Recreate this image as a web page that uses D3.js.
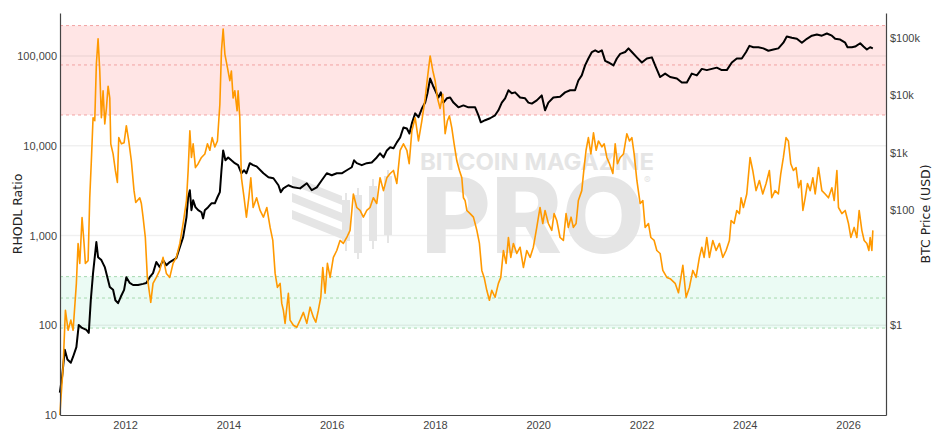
<!DOCTYPE html>
<html lang="en">
<head>
    <meta charset="UTF-8">
    <title>RHODL Ratio</title>
    <script src="https://cdnjs.cloudflare.com/ajax/libs/d3/7.8.5/d3.min.js"></script>
    <style>
        body {
            margin: 0;
            background: #fff;
            font-family: "DejaVu Sans", Verdana, sans-serif;
        }
        .tick-label {
            font-size: 11px;
            fill: #444;
        }
        .axis-title {
            font-size: 12.5px;
            fill: #222;
        }
    </style>
</head>
<body>
    <div id="chart"></div>

    <script>
        // RHODL ratio readings [decimal year, ratio]
        const rhodlSeries = [
            [2010.736, 10], [2010.799, 34], [2010.844, 147], [2010.896, 88], [2010.949, 114],
            [2010.993, 88], [2011.057, 293], [2011.090, 815], [2011.123, 489], [2011.167, 1585],
            [2011.206, 815], [2011.231, 489], [2011.284, 525], [2011.316, 2630], [2011.347, 6810],
            [2011.380, 20500], [2011.413, 19000], [2011.444, 81500], [2011.477, 155000], [2011.510, 68000],
            [2011.541, 20500], [2011.574, 40800], [2011.607, 17500], [2011.638, 26000], [2011.671, 46000],
            [2011.704, 34000], [2011.723, 10500], [2011.768, 8100], [2011.812, 5300], [2011.851, 3900],
            [2011.878, 12300], [2011.928, 10500], [2011.981, 10800], [2012.025, 16700], [2012.072, 11300],
            [2012.122, 6800], [2012.174, 3160], [2012.207, 2330], [2012.285, 2630], [2012.316, 2270],
            [2012.349, 1600], [2012.393, 950], [2012.432, 341], [2012.498, 180], [2012.542, 293],
            [2012.606, 341], [2012.672, 408], [2012.736, 570], [2012.800, 378], [2012.866, 341],
            [2012.930, 489], [2012.993, 570], [2013.059, 815], [2013.123, 1360], [2013.187, 2450],
            [2013.220, 5300], [2013.253, 14700], [2013.284, 7400], [2013.317, 10500], [2013.361, 5700],
            [2013.414, 6300], [2013.478, 7400], [2013.543, 8100], [2013.594, 10500], [2013.640, 8900],
            [2013.685, 12300], [2013.737, 9700], [2013.787, 11300], [2013.834, 29000], [2013.865, 114000],
            [2013.898, 200000], [2013.931, 105000], [2013.981, 74000], [2014.028, 53000], [2014.058, 68000],
            [2014.091, 34000], [2014.124, 41000], [2014.169, 24500], [2014.188, 41000], [2014.221, 20500],
            [2014.252, 4400], [2014.304, 2630], [2014.349, 1600], [2014.395, 2630], [2014.434, 4400],
            [2014.479, 2050], [2014.546, 2630], [2014.614, 1900], [2014.678, 1600], [2014.744, 2050],
            [2014.808, 1230], [2014.860, 880], [2014.905, 378], [2014.949, 264], [2015.002, 293],
            [2015.034, 175], [2015.065, 147], [2015.098, 105], [2015.162, 227], [2015.195, 114],
            [2015.259, 100], [2015.325, 95], [2015.389, 114], [2015.453, 139], [2015.519, 105],
            [2015.583, 159], [2015.646, 123], [2015.693, 108], [2015.743, 147], [2015.790, 205],
            [2015.828, 440], [2015.873, 227], [2015.918, 489], [2015.970, 341], [2016.034, 570],
            [2016.100, 680], [2016.163, 880], [2016.227, 815], [2016.293, 950], [2016.357, 1140],
            [2016.421, 2900], [2016.487, 2050], [2016.551, 1900], [2016.615, 1600], [2016.681, 1900],
            [2016.744, 2050], [2016.808, 2630], [2016.874, 2270], [2016.938, 4400], [2017.002, 3160],
            [2017.068, 4400], [2017.132, 4900], [2017.196, 5300], [2017.261, 3800], [2017.325, 8900],
            [2017.389, 10500], [2017.455, 8900], [2017.500, 6300], [2017.552, 14700], [2017.616, 20500],
            [2017.680, 11300], [2017.746, 19000], [2017.810, 34000], [2017.854, 57000], [2017.906, 100000],
            [2017.959, 68000], [2018.003, 53000], [2018.048, 34000], [2018.100, 26000], [2018.152, 37500],
            [2018.197, 13600], [2018.241, 19000], [2018.280, 21500], [2018.326, 15800], [2018.371, 10500],
            [2018.423, 6800], [2018.474, 5300], [2018.520, 4400], [2018.551, 2630], [2018.584, 2450],
            [2018.617, 1900], [2018.681, 1750], [2018.745, 1600], [2018.811, 1140], [2018.861, 815],
            [2018.907, 408], [2018.952, 341], [2019.004, 245], [2019.055, 190], [2019.101, 245],
            [2019.165, 205], [2019.229, 293], [2019.275, 341], [2019.326, 680], [2019.378, 489],
            [2019.423, 950], [2019.469, 570], [2019.519, 815], [2019.585, 630], [2019.649, 740],
            [2019.713, 440], [2019.779, 680], [2019.843, 570], [2019.906, 740], [2019.972, 1230],
            [2020.036, 2050], [2020.089, 1360], [2020.133, 1900], [2020.197, 1360], [2020.263, 1140],
            [2020.308, 1750], [2020.360, 1470], [2020.424, 950], [2020.488, 880], [2020.540, 1750],
            [2020.584, 1230], [2020.637, 1600], [2020.681, 1230], [2020.734, 1360], [2020.778, 2450],
            [2020.844, 3160], [2020.889, 5700], [2020.927, 8900], [2020.972, 12300], [2021.018, 8100],
            [2021.069, 13900], [2021.121, 8900], [2021.165, 11300], [2021.231, 9700], [2021.276, 10500],
            [2021.328, 7400], [2021.379, 6300], [2021.444, 4900], [2021.489, 10500], [2021.533, 6300],
            [2021.586, 7400], [2021.650, 8100], [2021.715, 13600], [2021.766, 11300], [2021.812, 12300],
            [2021.856, 8100], [2021.909, 4100], [2021.973, 2270], [2022.025, 2450], [2022.070, 1230],
            [2022.134, 1360], [2022.180, 950], [2022.244, 880], [2022.296, 680], [2022.360, 630],
            [2022.412, 408], [2022.490, 341], [2022.554, 330], [2022.651, 293], [2022.715, 230],
            [2022.800, 464], [2022.863, 205], [2022.927, 264], [2022.993, 408], [2023.057, 341],
            [2023.121, 570], [2023.168, 740], [2023.212, 570], [2023.264, 950], [2023.315, 570],
            [2023.381, 880], [2023.445, 680], [2023.509, 815], [2023.574, 570], [2023.638, 680],
            [2023.702, 880], [2023.735, 1470], [2023.793, 1360], [2023.845, 1900], [2023.896, 1750],
            [2023.928, 2630], [2023.973, 2050], [2024.039, 2900], [2024.103, 7400], [2024.155, 5300],
            [2024.219, 3160], [2024.283, 4100], [2024.349, 2900], [2024.413, 3800], [2024.477, 5300],
            [2024.523, 2630], [2024.587, 3160], [2024.651, 2900], [2024.698, 4900], [2024.748, 7400],
            [2024.800, 12300], [2024.845, 11300], [2024.891, 6300], [2024.942, 5300], [2024.994, 5700],
            [2025.039, 3400], [2025.085, 4100], [2025.124, 1900], [2025.168, 2630], [2025.213, 3800],
            [2025.265, 3160], [2025.317, 4400], [2025.362, 2900], [2025.426, 5700], [2025.491, 3160],
            [2025.555, 2900], [2025.619, 2630], [2025.685, 3400], [2025.730, 2450], [2025.782, 5300],
            [2025.813, 2050], [2025.879, 1750], [2025.943, 1900], [2026.007, 1360], [2026.053, 950],
            [2026.117, 1230], [2026.169, 950], [2026.214, 1900], [2026.266, 1140], [2026.311, 880],
            [2026.363, 815], [2026.402, 680], [2026.427, 950], [2026.460, 680], [2026.479, 1140]
        ];

        // BTC price readings [decimal year, USD]
        const priceSeries = [
            [2010.736, 0.066], [2010.780, 0.125], [2010.832, 0.37], [2010.883, 0.25], [2010.949, 0.22],
            [2010.993, 0.28], [2011.057, 0.41], [2011.103, 1.0], [2011.167, 0.89], [2011.251, 0.82],
            [2011.297, 0.73], [2011.336, 2.7], [2011.380, 8.0], [2011.413, 15.2], [2011.444, 27.8],
            [2011.477, 15.2], [2011.541, 13.5], [2011.607, 10.2], [2011.657, 6.8], [2011.704, 4.6],
            [2011.768, 4.1], [2011.812, 2.7], [2011.864, 2.4], [2011.917, 3.1], [2011.981, 4.1],
            [2012.025, 6.8], [2012.091, 5.4], [2012.155, 4.97], [2012.252, 4.97], [2012.349, 5.2],
            [2012.412, 5.4], [2012.478, 6.8], [2012.542, 8.0], [2012.606, 12.5], [2012.672, 10.2],
            [2012.736, 13.5], [2012.800, 11.0], [2012.866, 12.5], [2012.930, 13.5], [2012.993, 14.6],
            [2013.059, 22.7], [2013.123, 34], [2013.187, 75], [2013.220, 168], [2013.253, 223],
            [2013.284, 100], [2013.317, 149], [2013.361, 113], [2013.414, 100], [2013.478, 92],
            [2013.510, 72], [2013.543, 100], [2013.607, 113], [2013.671, 132], [2013.737, 132],
            [2013.787, 168], [2013.834, 206], [2013.865, 497], [2013.898, 1100], [2013.942, 740],
            [2013.995, 830], [2014.058, 740], [2014.124, 660], [2014.188, 610], [2014.252, 440],
            [2014.304, 497], [2014.349, 440], [2014.415, 660], [2014.479, 610], [2014.546, 580],
            [2014.678, 440], [2014.775, 375], [2014.872, 360], [2014.969, 272], [2015.015, 206],
            [2015.065, 240], [2015.162, 272], [2015.259, 250], [2015.389, 240], [2015.519, 295],
            [2015.615, 223], [2015.712, 250], [2015.809, 333], [2015.906, 440], [2016.003, 407],
            [2016.100, 440], [2016.196, 440], [2016.293, 497], [2016.390, 560], [2016.435, 740],
            [2016.487, 660], [2016.584, 610], [2016.681, 660], [2016.777, 680], [2016.874, 830],
            [2016.938, 980], [2017.002, 830], [2017.068, 1100], [2017.132, 1250], [2017.196, 1200],
            [2017.261, 1520], [2017.325, 1850], [2017.389, 2760], [2017.455, 2650], [2017.505, 2170],
            [2017.552, 3250], [2017.616, 4870], [2017.680, 4170], [2017.746, 5900], [2017.810, 7500],
            [2017.854, 10900], [2017.906, 19700], [2017.959, 14900], [2018.003, 12300], [2018.067, 9200],
            [2018.114, 11300], [2018.164, 7500], [2018.230, 8900], [2018.294, 9200], [2018.358, 7500],
            [2018.454, 6200], [2018.551, 6700], [2018.648, 6200], [2018.778, 6200], [2018.842, 4500],
            [2018.888, 3400], [2018.971, 3700], [2019.068, 4000], [2019.165, 4500], [2019.229, 5500],
            [2019.295, 7500], [2019.359, 8900], [2019.423, 12300], [2019.488, 10900], [2019.552, 11300],
            [2019.649, 9200], [2019.746, 8900], [2019.810, 7500], [2019.876, 7200], [2019.972, 8200],
            [2020.069, 10000], [2020.133, 5500], [2020.197, 7500], [2020.294, 9200], [2020.424, 9500],
            [2020.521, 11300], [2020.618, 12300], [2020.714, 12300], [2020.778, 18200], [2020.844, 22300],
            [2020.908, 33300], [2020.972, 44000], [2021.038, 57000], [2021.102, 61000], [2021.165, 57000],
            [2021.231, 61000], [2021.295, 40000], [2021.359, 37500], [2021.456, 33300], [2021.521, 44000],
            [2021.586, 53000], [2021.683, 57000], [2021.747, 66000], [2021.812, 57000], [2021.909, 46000],
            [2022.006, 37500], [2022.103, 44000], [2022.200, 46000], [2022.263, 33300], [2022.360, 20900],
            [2022.457, 24000], [2022.554, 20900], [2022.684, 19700], [2022.780, 16800], [2022.877, 16800],
            [2022.974, 24000], [2023.071, 22300], [2023.168, 29000], [2023.264, 27600], [2023.361, 29000],
            [2023.458, 30500], [2023.555, 27600], [2023.652, 27600], [2023.749, 37500], [2023.845, 44000],
            [2023.942, 44000], [2024.026, 57000], [2024.090, 73000], [2024.167, 69000], [2024.264, 69000],
            [2024.361, 66000], [2024.458, 60000], [2024.555, 63000], [2024.651, 66000], [2024.748, 83000],
            [2024.814, 106000], [2024.911, 101000], [2025.007, 97000], [2025.104, 83000], [2025.201, 97000],
            [2025.298, 110000], [2025.394, 115000], [2025.491, 110000], [2025.588, 120000], [2025.685, 110000],
            [2025.749, 97000], [2025.846, 94000], [2025.943, 83000], [2025.988, 69000], [2026.073, 69000],
            [2026.137, 71000], [2026.234, 81000], [2026.298, 71000], [2026.363, 63000], [2026.427, 69000],
            [2026.479, 66000]
        ];

        const xDomain = ["2010-09-28", "2026-09-26"];
        const xTickYears = [2012, 2014, 2016, 2018, 2020, 2022, 2024, 2026];
        const ratioDomain = [10, 301000];
        const ratioTicks = [10, 100, 1000, 10000, 100000];
        const priceDomain = [0.027, 273000];
        const priceTicks = [1, 100, 1000, 10000, 100000];
        const priceTickLabels = ["$1", "$100", "$1k", "$10k", "$100k"];
        // zones on the ratio axis: [top, middle, bottom]
        const sellZone = [218000, 79400, 22000];
        const buyZone = [348, 201, 93];

        const width = 940, height = 443;
        const margin = { top: 13, right: 54, bottom: 28, left: 60 };
        const innerW = width - margin.left - margin.right;
        const innerH = height - margin.top - margin.bottom;

        function toDate(y) {
            const yr = Math.floor(y);
            return new Date(Date.UTC(yr, 0, 1) + (y - yr) * 365.25 * 864e5);
        }

        const svg = d3.select("#chart")
            .append("svg")
            .attr("width", width)
            .attr("height", height);

        const x = d3.scaleUtc()
            .domain(xDomain.map(d => new Date(d + "T00:00:00Z")))
            .range([0, innerW]);
        const yRatio = d3.scaleLog().domain(ratioDomain).range([innerH, 0]);
        const yPrice = d3.scaleLog().domain(priceDomain).range([innerH, 0]);

        const g = svg.append("g")
            .attr("transform", `translate(${margin.left},${margin.top})`);

        // Zone bands
        function drawZone(vals, fill, stroke) {
            g.append("rect")
                .attr("x", 0)
                .attr("width", innerW)
                .attr("y", yRatio(vals[0]))
                .attr("height", yRatio(vals[2]) - yRatio(vals[0]))
                .attr("fill", fill);
            vals.forEach(v => {
                g.append("line")
                    .attr("x1", 0).attr("x2", innerW)
                    .attr("y1", yRatio(v)).attr("y2", yRatio(v))
                    .attr("stroke", stroke)
                    .attr("stroke-width", 1)
                    .attr("stroke-dasharray", "3,3");
            });
        }
        drawZone(sellZone, "rgba(255, 0, 0, 0.1)", "#f2a3a3");
        drawZone(buyZone, "rgba(0, 200, 110, 0.08)", "#a6d9ae");

        // Grid lines
        g.selectAll(".grid")
            .data(ratioTicks.slice(1))
            .enter()
            .append("line")
            .attr("x1", 0).attr("x2", innerW)
            .attr("y1", d => yRatio(d)).attr("y2", d => yRatio(d))
            .attr("stroke", "#000")
            .attr("stroke-opacity", 0.06)
            .attr("stroke-width", 1.5);

        // Watermark
        const wm = g.append("g")
            .attr("fill", "#e5e5e5")
            .attr("stroke", "none");
        wm.append("text")
            .attr("x", 360).attr("y", 157)
            .attr("font-family", "Inter, 'Open Sans', sans-serif")
            .attr("font-weight", 700)
            .attr("font-size", 23)
            .attr("textLength", 234)
            .attr("lengthAdjust", "spacingAndGlyphs")
            .text("BITCOIN MAGAZINE");
        wm.append("text")
            .attr("x", 361).attr("y", 240)
            .attr("font-family", "Inter, 'Open Sans', sans-serif")
            .attr("font-weight", 800)
            .attr("font-size", 104)
            .attr("textLength", 224)
            .attr("lengthAdjust", "spacingAndGlyphs")
            .text("PRO");
        wm.append("text")
            .attr("x", 584).attr("y", 171)
            .attr("font-family", "Inter, sans-serif")
            .attr("font-size", 10)
            .text("®");
        // logo stripes and candles
        [0, 17, 34].forEach(dy => {
            wm.append("path")
                .attr("d", `M232,${163 + dy} L282,${183 + dy} L282,${192 + dy} L232,${172 + dy} Z`);
        });
        [[282, 8, 187, 228, 180, 238], [294, 8, 182, 240, 175, 246],
         [309, 8, 173, 228, 166, 236], [324, 8, 163, 222, 157, 230]].forEach(c => {
            wm.append("rect").attr("x", c[0]).attr("width", c[1])
                .attr("y", c[2]).attr("height", c[3] - c[2]);
            wm.append("rect").attr("x", c[0] + c[1] / 2 - 1).attr("width", 2)
                .attr("y", c[4]).attr("height", c[5] - c[4]);
        });

        // Lines
        const rhodlLine = d3.line()
            .x(d => x(toDate(d[0])))
            .y(d => yRatio(d[1]));
        const priceLine = d3.line()
            .x(d => x(toDate(d[0])))
            .y(d => yPrice(d[1]));

        g.append("path")
            .datum(priceSeries)
            .attr("fill", "none")
            .attr("stroke", "#000")
            .attr("stroke-width", 2)
            .attr("stroke-linejoin", "round")
            .attr("d", priceLine);

        g.append("path")
            .datum(rhodlSeries)
            .attr("fill", "none")
            .attr("stroke", "#ff9900")
            .attr("stroke-width", 1.6)
            .attr("stroke-linejoin", "round")
            .attr("d", rhodlLine);

        // Axes
        const xAxis = d3.axisBottom(x)
            .tickValues(xTickYears.map(yr => new Date(Date.UTC(yr, 0, 1))))
            .tickFormat(d3.utcFormat("%Y"))
            .tickSize(0)
            .tickPadding(6);
        const yLeft = d3.axisLeft(yRatio)
            .tickValues(ratioTicks)
            .tickFormat(d3.format(","))
            .tickSize(0)
            .tickPadding(3);
        const yRight = d3.axisRight(yPrice)
            .tickValues(priceTicks)
            .tickFormat((d, i) => priceTickLabels[i])
            .tickSize(0)
            .tickPadding(4);

        function styleAxis(sel) {
            sel.select(".domain").attr("stroke", "#444").attr("stroke-width", 1.2);
            sel.selectAll("text")
                .attr("class", "tick-label")
                .attr("font-family", null)
                .attr("font-size", null)
                .attr("fill", null);
        }

        g.append("g")
            .attr("transform", `translate(0,${innerH})`)
            .call(xAxis)
            .call(styleAxis);
        g.append("g").call(yLeft).call(styleAxis);
        g.append("g")
            .attr("transform", `translate(${innerW},0)`)
            .call(yRight)
            .call(styleAxis);

        // Axis titles
        svg.append("text")
            .attr("class", "axis-title")
            .attr("transform", `translate(22,${margin.top + innerH / 2}) rotate(-90)`)
            .attr("text-anchor", "middle")
            .text("RHODL Ratio");
        svg.append("text")
            .attr("class", "axis-title")
            .attr("transform", `translate(930,${margin.top + innerH / 2}) rotate(-90)`)
            .attr("text-anchor", "middle")
            .text("BTC Price (USD)");
    </script>
</body>
</html>
